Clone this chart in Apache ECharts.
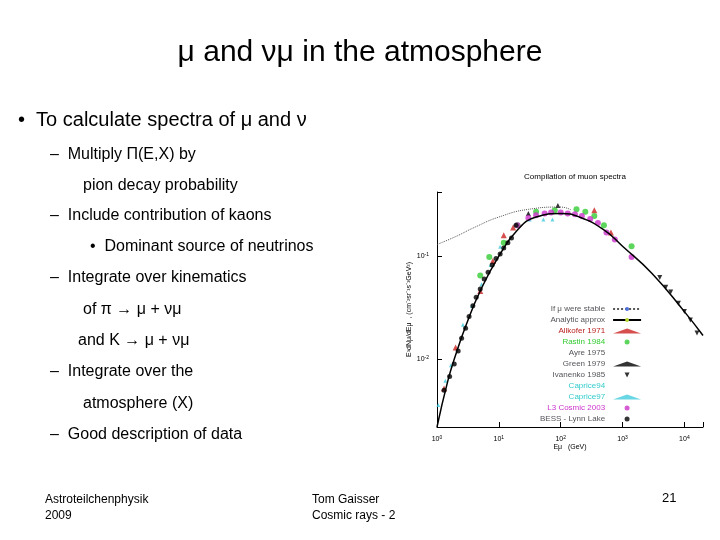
<!DOCTYPE html><html><head><meta charset="utf-8">
<script src="https://cdn.jsdelivr.net/npm/echarts@6/dist/echarts.min.js"></script>
<style>body{margin:0;background:#fff}#c{width:720px;height:540px}</style></head><body><div id="c"></div>
<script>
const analytic=[[1,0.0022],[1.5,0.0062],[2,0.011],[3,0.022],[5,0.046],[10,0.1],[20,0.18],[40,0.24],[100,0.26],[200,0.24],[500,0.18],[1000,0.125],[3000,0.068],[10000,0.029],[20000,0.017]];
const stable=[[1,0.13],[2,0.155],[4,0.19],[10,0.24],[30,0.285],[100,0.3],[150,0.28]];
const bess=[[1.3,0.005],[1.6,0.0068],[1.9,0.009],[2.2,0.012],[2.5,0.016],[2.9,0.02],[3.3,0.026],[3.8,0.033],[4.3,0.04],[5,0.048],[5.8,0.06],[6.7,0.07],[7.8,0.082],[9,0.095],[10.5,0.105],[12,0.12],[14,0.135],[16,0.15],[19,0.2]];
const l3=[[20,0.2],[30,0.235],[40,0.25],[55,0.26],[70,0.265],[100,0.265],[130,0.26],[170,0.255],[220,0.245],[300,0.23],[400,0.21],[550,0.17],[750,0.145],[1400,0.098]];
const caprice=[[1,0.0035],[1.3,0.006],[1.6,0.0085],[2.5,0.021],[3.5,0.032],[5,0.052],[7,0.08],[10,0.12],[30,0.22],[50,0.22],[70,0.22]];
const rastin=[[5,0.065],[7,0.098],[12,0.135],[20,0.2],[40,0.27],[80,0.28],[180,0.285],[250,0.27],[350,0.245],[500,0.2],[1400,0.125]];
const allkofer=[[1.3,0.0052],[2,0.013],[5,0.046],[8,0.09],[12,0.16],[17,0.19],[350,0.28],[650,0.17]];
const ivanenko=[[4000,0.062],[5000,0.05],[6000,0.045],[8000,0.035],[10000,0.029],[12500,0.024],[16000,0.018]];
const green=[[30,0.26],[90,0.31]];
const ayre=[[60,0.26],[150,0.27]];
const sc=(name,data,color,symbol,size)=>({name,type:'scatter',data,symbol,symbolSize:size,itemStyle:{color}});
const rich={s:{fontSize:5,verticalAlign:'top',padding:[0,0,4,0],color:'#000'}};
const c=echarts.init(document.getElementById('c'));
c.setOption({
 animation:false,
 title:{text:'Compilation of muon spectra',left:570,top:168,textAlign:'center',textStyle:{fontSize:8,fontWeight:'normal',color:'#000',fontFamily:'Liberation Sans'}},
 grid:{left:437,top:192,width:266,height:235},
 xAxis:{type:'log',min:1,max:20000,name:'E\u03bc   (GeV)',nameLocation:'middle',nameGap:14,nameTextStyle:{fontSize:7},
  axisLabel:{fontSize:7,color:'#000',rich,formatter:v=>{const l=Math.log10(v),e=Math.round(l);if(Math.abs(l-e)>0.01||e>4)return '';return '10{s|'+e+'}';}},
  axisLine:{lineStyle:{color:'#000'}},axisTick:{inside:true},splitLine:{show:false}},
 yAxis:{type:'log',min:0.0022,max:0.42,name:'E\u00b3dN\u03bc/dE\u03bc  , (cm\u207b\u00b2sr\u207b\u00b9s\u207b\u00b9GeV\u00b2)',nameLocation:'middle',nameGap:24,nameTextStyle:{fontSize:7},
  axisLabel:{fontSize:7,color:'#000',rich,formatter:v=>{const l=Math.log10(v),e=Math.round(l);if(Math.abs(l-e)>0.01)return '';return '10{s|'+e+'}';}},
  axisLine:{show:true,lineStyle:{color:'#000'}},axisTick:{inside:true},splitLine:{show:false}},
 legend:{orient:'vertical',left:540,top:305,align:'right',itemGap:3,itemWidth:28,itemHeight:5,padding:0,textStyle:{fontSize:8,padding:[0,3,0,0]},
  data:[{name:'If \u03bc were stable'},{name:'Analytic approx'},{name:'Allkofer 1971',textStyle:{color:'#b22'}},{name:'Rastin 1984',textStyle:{color:'#3c3'}},{name:'Ayre 1975'},{name:'Green 1979'},{name:'Ivanenko 1985'},{name:'Caprice94',textStyle:{color:'#3cc'}},{name:'Caprice97',textStyle:{color:'#3cc'}},{name:'L3 Cosmic 2003',textStyle:{color:'#c3c'}},{name:'BESS - Lynn Lake'}]},
 graphic:[
  {type:'text',left:'center',top:38,style:{text:'\u03bc and \u03bd\u03bc in the atmosphere',font:'30px Liberation Sans',fill:'#000'}},
  {type:'text',left:18,top:110,style:{text:'\u2022  To calculate spectra of \u03bc and \u03bd',font:'20px Liberation Sans',fill:'#000'}},
  {type:'text',left:50,top:147,style:{text:'\u2013  Multiply \u03a0(E,X) by',font:'16px Liberation Sans',fill:'#000'}},
  {type:'text',left:83,top:178,style:{text:'pion decay probability',font:'16px Liberation Sans',fill:'#000'}},
  {type:'text',left:50,top:208,style:{text:'\u2013  Include contribution of kaons',font:'16px Liberation Sans',fill:'#000'}},
  {type:'text',left:90,top:239,style:{text:'\u2022  Dominant source of neutrinos',font:'16px Liberation Sans',fill:'#000'}},
  {type:'text',left:50,top:270,style:{text:'\u2013  Integrate over kinematics',font:'16px Liberation Sans',fill:'#000'}},
  {type:'text',left:83,top:302,style:{text:'of \u03c0 \u2192 \u03bc + \u03bd\u03bc',font:'16px Liberation Sans',fill:'#000'}},
  {type:'text',left:78,top:333,style:{text:'and K \u2192 \u03bc + \u03bd\u03bc',font:'16px Liberation Sans',fill:'#000'}},
  {type:'text',left:50,top:364,style:{text:'\u2013  Integrate over the',font:'16px Liberation Sans',fill:'#000'}},
  {type:'text',left:83,top:396,style:{text:'atmosphere (X)',font:'16px Liberation Sans',fill:'#000'}},
  {type:'text',left:50,top:427,style:{text:'\u2013  Good description of data',font:'16px Liberation Sans',fill:'#000'}},
  {type:'text',left:45,top:492,style:{text:'Astroteilchenphysik\n2009',font:'12px Liberation Sans',fill:'#000',lineHeight:16}},
  {type:'text',left:312,top:492,style:{text:'Tom Gaisser\nCosmic rays - 2',font:'12px Liberation Sans',fill:'#000',lineHeight:16,align:'center'}},
  {type:'text',left:662,top:492,style:{text:'21',font:'13px Liberation Sans',fill:'#000'}}
 ],
 series:[
  {name:'If \u03bc were stable',type:'line',data:stable,symbol:'none',smooth:true,lineStyle:{color:'#555',width:1,type:'dotted'}},
  {name:'Analytic approx',type:'line',data:analytic,symbol:'none',smooth:true,lineStyle:{color:'#000',width:1.5}},
  sc('Allkofer 1971',allkofer,'#c22','triangle',6),
  sc('Rastin 1984',rastin,'#3c3','circle',6),
  sc('Ayre 1975',ayre,'#555','path://M0,0L10,10M10,0L0,10',5),
  sc('Green 1979',green,'#000','triangle',5),
  sc('Ivanenko 1985',ivanenko,'#000','path://M0,0L10,0L5,10Z',5),
  sc('Caprice94',caprice,'#4cd','path://M0,0L10,10M10,0L0,10',5),
  sc('Caprice97',caprice.map(p=>[p[0]*1.05,p[1]*1.03]),'#4cd','triangle',4),
  sc('L3 Cosmic 2003',l3,'#c3c','circle',6),
  sc('BESS - Lynn Lake',bess,'#000','circle',5)
 ]
});
</script></body></html>
